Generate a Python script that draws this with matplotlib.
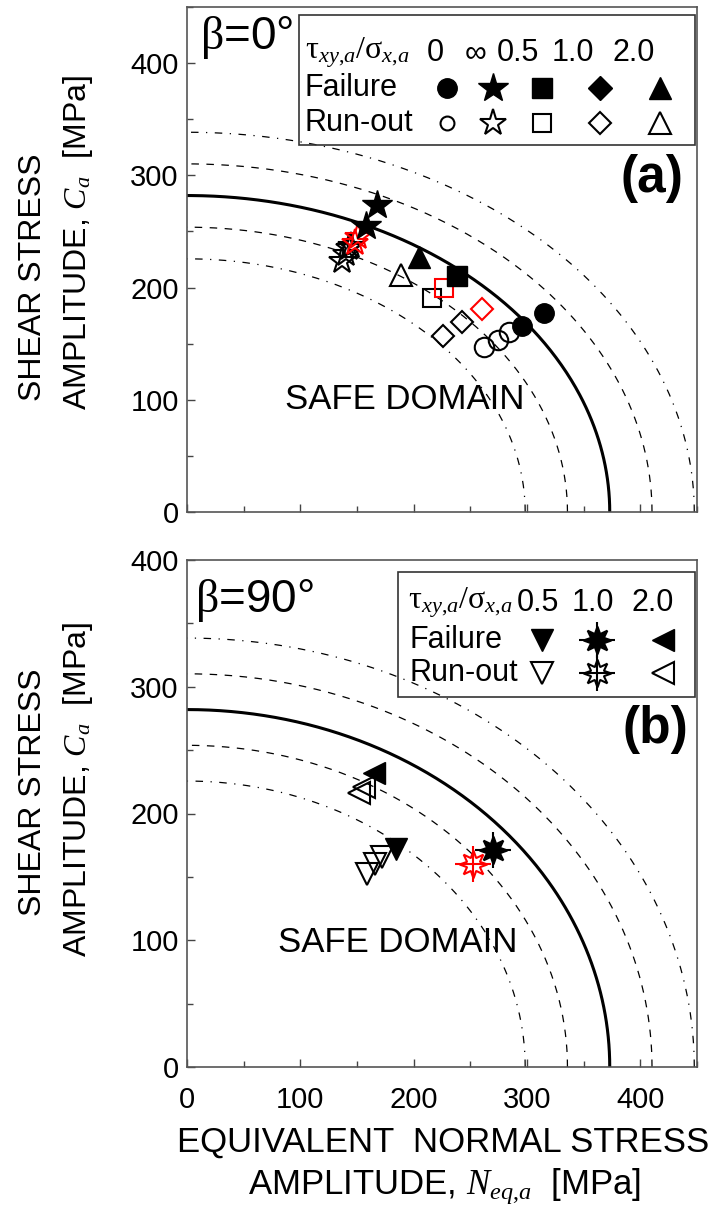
import numpy as np
import matplotlib
matplotlib.use("Agg")
import matplotlib.pyplot as plt
from matplotlib.patches import Rectangle

plt.rcParams['font.family'] = ['Liberation Sans', 'DejaVu Sans']
plt.rcParams['mathtext.fontset'] = 'custom'
plt.rcParams['mathtext.rm'] = 'Liberation Serif'
plt.rcParams['mathtext.it'] = 'Liberation Serif:italic'

# limit curve intercepts and scatter bands
n_lim = 373.0
c_lim = 282.0
band_scales = [0.8, 0.9, 1.0, 1.1, 1.2]

# panel (a), beta = 0 deg
a_circ_fail_x = [296, 315]
a_circ_fail_y = [166, 177]
a_circ_run_x = [262, 274, 284]
a_circ_run_y = [147, 153.5, 160]
a_star_fail_x = [157.5, 168]
a_star_fail_y = [255, 274]
a_star_run_x = [137, 140, 143, 145]
a_star_run_y = [224, 230, 235, 237]
a_star_run_red_x = [148, 151]
a_star_run_red_y = [240, 245]
a_sq_fail_x = [238]
a_sq_fail_y = [210]
a_sq_run_x = [216.5]
a_sq_run_y = [191]
a_sq_run_red_x = [227]
a_sq_run_red_y = [200]
a_dia_run_x = [226, 243]
a_dia_run_y = [157, 169]
a_dia_run_red_x = [260]
a_dia_run_red_y = [181]
a_tri_fail_x = [205]
a_tri_fail_y = [227]
a_tri_run_x = [189]
a_tri_run_y = [211]

# panel (b), beta = 90 deg
b_down_fail_x = [184]
b_down_fail_y = [172]
b_down_run_x = [159, 166, 172]
b_down_run_y = [152, 160, 166]
b_ast_fail_x = [270]
b_ast_fail_y = [171]
b_ast_run_red_x = [252]
b_ast_run_red_y = [160]
b_left_fail_x = [165]
b_left_fail_y = [232]
b_left_run_x = [152, 156]
b_left_run_y = [216, 221]

W, H = 728, 1213
fig = plt.figure(figsize=(W / 100, H / 100), dpi=100)
ax_a = fig.add_axes([187 / W, 1 - 512 / H, 510 / W, 505 / H])
ax_b = fig.add_axes([187 / W, 1 - 1067 / H, 510 / W, 507 / H])

FS = 21      # tick labels
LFS = 22     # legend text
YFS = 23     # y titles
XFS = 25     # x titles
SFS = 25     # safe domain

# marker styles
S = {
    'circ_fail': dict(marker='o', ms=14, mfc='k', mec='k'),
    'circ_run': dict(marker='o', ms=14, mfc='none', mec='k', mew=1.5),
    'star_fail': dict(marker='*', ms=22, mfc='k', mec='k'),
    'star_run': dict(marker='*', ms=20, mfc='none', mec='k', mew=1.5),
    'sq_fail': dict(marker='s', ms=14, mfc='k', mec='k'),
    'sq_run': dict(marker='s', ms=13, mfc='none', mec='k', mew=1.5),
    'dia_fail': dict(marker='D', ms=12, mfc='k', mec='k'),
    'dia_run': dict(marker='D', ms=11, mfc='none', mec='k', mew=1.5),
    'tri_fail': dict(marker='^', ms=16, mfc='k', mec='k'),
    'tri_run': dict(marker='^', ms=16, mfc='none', mec='k', mew=1.5),
    'down_fail': dict(marker='v', ms=16, mfc='k', mec='k'),
    'down_run': dict(marker='v', ms=16, mfc='none', mec='k', mew=1.5),
    'left_fail': dict(marker='<', ms=16, mfc='k', mec='k'),
    'left_run': dict(marker='<', ms=16, mfc='none', mec='k', mew=1.5),
}


def red(style):
    d = dict(style)
    d['mec'] = 'red'
    return d


def pts(ax, x, y, style, **kw):
    ax.plot(x, y, ls='none', **style, **kw)


def asterisk(ax, x, y, color='k', filled=True, **kw):
    face = color if filled else 'white'
    ax.plot(x, y, ls='none', marker=(8, 1, 0), ms=20, mfc=face, mec=color,
            mew=1.5, **kw)
    ax.plot(x, y, ls='none', marker='+', ms=26, mec=color, mew=1.5, **kw)


def setup(ax, ymax):
    th = np.linspace(0, np.pi / 2, 300)
    for s in band_scales:
        x = s * n_lim * np.cos(th)
        y = s * c_lim * np.sin(th)
        if s == 1.0:
            ax.plot(x, y, color='k', lw=2.2)
        elif s in (0.9, 1.1):
            ax.plot(x, y, color='k', lw=0.9, dashes=(6, 6))
        else:
            ax.plot(x, y, color='k', lw=0.9, dashes=(6, 6, 1, 6))
    ax.set_xlim(0, 450)
    ax.set_ylim(0, ymax)
    ax.set_xticks(np.arange(0, 401, 100))
    ax.set_xticks(np.arange(0, 451, 50), minor=True)
    ax.set_yticks(np.arange(0, 401, 100))
    ax.set_yticks(np.arange(0, ymax + 1, 50), minor=True)
    ax.tick_params(direction='in', which='major', length=6, width=1,
                   labelsize=FS, colors='#444', labelcolor='k', pad=6)
    ax.tick_params(axis='x', which='major', pad=14)
    ax.tick_params(direction='in', which='minor', length=4, width=1,
                   colors='#444')
    for sp in ax.spines.values():
        sp.set_color('#555')
        sp.set_linewidth(1.2)


setup(ax_a, 450)
setup(ax_b, 400)
ax_a.tick_params(labelbottom=False)

# panel (a) data
pts(ax_a, a_circ_run_x, a_circ_run_y, S['circ_run'])
pts(ax_a, a_circ_fail_x, a_circ_fail_y, S['circ_fail'])
pts(ax_a, a_star_run_x, a_star_run_y, S['star_run'])
pts(ax_a, a_star_run_red_x, a_star_run_red_y, red(S['star_run']))
pts(ax_a, a_star_fail_x, a_star_fail_y, S['star_fail'])
pts(ax_a, a_sq_run_x, a_sq_run_y, S['sq_run'])
pts(ax_a, a_sq_run_red_x, a_sq_run_red_y, red(S['sq_run']))
pts(ax_a, a_sq_fail_x, a_sq_fail_y, S['sq_fail'])
pts(ax_a, a_dia_run_x, a_dia_run_y, S['dia_run'])
pts(ax_a, a_dia_run_red_x, a_dia_run_red_y, red(S['dia_run']))
pts(ax_a, a_tri_run_x, a_tri_run_y, S['tri_run'])
pts(ax_a, a_tri_fail_x, a_tri_fail_y, S['tri_fail'])

# panel (b) data
pts(ax_b, b_down_run_x, b_down_run_y, S['down_run'])
pts(ax_b, b_down_fail_x, b_down_fail_y, S['down_fail'])
pts(ax_b, b_left_run_x, b_left_run_y, S['left_run'])
pts(ax_b, b_left_fail_x, b_left_fail_y, S['left_fail'])
asterisk(ax_b, b_ast_fail_x, b_ast_fail_y, 'k', True)
asterisk(ax_b, b_ast_run_red_x, b_ast_run_red_y, 'red', False)

header = r'$\mathrm{\tau}_{xy{,}a}/\mathrm{\sigma}_{x{,}a}$'

# legend (a)
T = ax_a.transAxes
ax_a.add_patch(Rectangle((0.2196, 0.727), 0.776, 0.257, transform=T,
                         fill=False, ec='#333', lw=1.2, zorder=5))
ax_a.text(0.231, 0.909, header, transform=T, fontsize=LFS + 1, va='center')
ax_a.text(0.231, 0.840, 'Failure', transform=T, fontsize=LFS, va='center')
ax_a.text(0.231, 0.770, 'Run-out', transform=T, fontsize=LFS, va='center')
cols_a = ['0', '\u221e', '0.5', '1.0', '2.0']
col_x_a = [0.486, 0.565, 0.649, 0.757, 0.875]
key_x_a = [0.510, 0.600, 0.696, 0.810, 0.927]
for lab, cx in zip(cols_a, col_x_a):
    ax_a.text(cx, 0.909, lab, transform=T, fontsize=LFS, ha='center',
              va='center')
keys_a = ['circ', 'star', 'sq', 'dia', 'tri']
for k, kx in zip(keys_a, key_x_a):
    ax_a.plot([kx], [0.840], transform=T, clip_on=False, **S[k + '_fail'])
    st = dict(S[k + '_run'])
    if k == 'circ':
        st['ms'] = 10
    ax_a.plot([kx], [0.770], transform=T, clip_on=False, **st)

# legend (b)
T = ax_b.transAxes
ax_b.add_patch(Rectangle((0.414, 0.730), 0.582, 0.246, transform=T,
                         fill=False, ec='#333', lw=1.2, zorder=5))
ax_b.text(0.433, 0.915, header, transform=T, fontsize=LFS + 1, va='center')
ax_b.text(0.437, 0.842, 'Failure', transform=T, fontsize=LFS, va='center')
ax_b.text(0.437, 0.777, 'Run-out', transform=T, fontsize=LFS, va='center')
cols_b = ['0.5', '1.0', '2.0']
col_x_b = [0.688, 0.796, 0.914]
key_x_b = [0.696, 0.804, 0.933]
for lab, cx in zip(cols_b, col_x_b):
    ax_b.text(cx, 0.915, lab, transform=T, fontsize=LFS, ha='center',
              va='center')
ax_b.plot([key_x_b[0]], [0.842], transform=T, clip_on=False, **S['down_fail'])
ax_b.plot([key_x_b[0]], [0.777], transform=T, clip_on=False, **S['down_run'])
asterisk(ax_b, [key_x_b[1]], [0.842], 'k', True, transform=T, clip_on=False)
asterisk(ax_b, [key_x_b[1]], [0.777], 'k', False, transform=T, clip_on=False)
ax_b.plot([key_x_b[2]], [0.842], transform=T, clip_on=False, **S['left_fail'])
ax_b.plot([key_x_b[2]], [0.777], transform=T, clip_on=False, **S['left_run'])

# panel annotations
ax_a.text(0.025, 0.94, r'$\mathrm{\beta}$=0°', transform=ax_a.transAxes,
          fontsize=33, va='center')
ax_b.text(0.016, 0.921, r'$\mathrm{\beta}$=90°', transform=ax_b.transAxes,
          fontsize=33, va='center')
ax_a.text(0.973, 0.661, '(a)', transform=ax_a.transAxes, fontsize=37,
          fontweight='bold', ha='right', va='center')
ax_b.text(0.982, 0.665, '(b)', transform=ax_b.transAxes, fontsize=37,
          fontweight='bold', ha='right', va='center')
ax_a.text(0.427, 0.222, 'SAFE DOMAIN', transform=ax_a.transAxes,
          fontsize=SFS, ha='center', va='center')
ax_b.text(0.414, 0.245, 'SAFE DOMAIN', transform=ax_b.transAxes,
          fontsize=SFS, ha='center', va='center')

# axis titles
for c1, c2 in [(277, 242), (792, 789)]:
    fig.text(33 / W, 1 - c1 / H, 'SHEAR STRESS', rotation=90, fontsize=YFS,
             ha='center', va='center')
    fig.text(78 / W, 1 - c2 / H, r'AMPLITUDE, $C_a$  [MPa]', rotation=90,
             fontsize=YFS, ha='center', va='center')
fig.text(443 / W, 1 - 1142 / H, 'EQUIVALENT  NORMAL STRESS', fontsize=XFS,
         ha='center', va='center')
fig.text(445 / W, 1 - 1186 / H, r'AMPLITUDE, $N_{eq{,}a}$  [MPa]',
         fontsize=XFS, ha='center', va='center')

fig.savefig('out.png', dpi=100)
